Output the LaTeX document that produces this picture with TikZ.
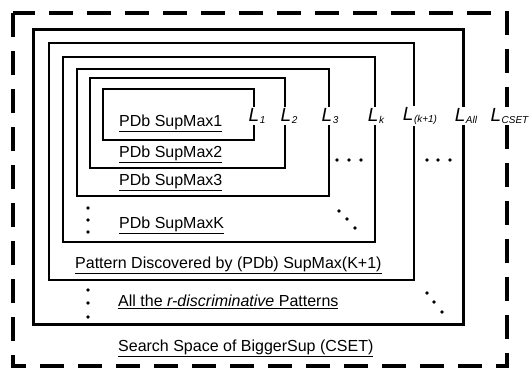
\documentclass[tikz,border=0pt]{standalone}
\usepackage{fontspec}
\setmainfont{Liberation Sans}
\newcommand{\lsub}[1]{L\kern0.5pt\raisebox{-1.5pt}{\fontsize{10}{12}\selectfont #1}}
\begin{document}
\begin{tikzpicture}[x=1pt,y=-1pt,
  setbox/.style={draw, line width=2.2pt},
  cset/.style={draw, line width=3.2pt, dash pattern=on 24pt off 14pt},
  txt/.style={anchor=west, inner sep=0pt, font=\fontsize{16}{19}\selectfont},
  lvl/.style={fill=white, inner sep=1.5pt, font=\fontsize{19}{22}\selectfont\itshape},
  dot/.style={fill, circle, inner sep=0pt, minimum size=3.6pt}]
\useasboundingbox (0,0) rectangle (529,372);
% nested pattern sets
\draw[cset] (13,13) rectangle (507,366);
\draw[setbox, line width=3pt] (33,29) rectangle (463,324);
\draw[setbox] (49,43) rectangle (414,280);
\draw[setbox] (63,57) rectangle (375,242);
\draw[setbox] (77,69) rectangle (329,196);
\draw[setbox] (90,78) rectangle (285,168);
\draw[setbox] (103,89) rectangle (254,140);
% level labels on the right edges
\node[lvl] (l1) at (257,116) {\lsub{1}};
\node[lvl] (l2) at (289,116) {\lsub{2}};
\node[lvl] (l3) at (330,116) {\lsub{3}};
\node[lvl] (lk) at (376,116) {\lsub{k}};
\node[lvl] (lk1) at (420,116) {\lsub{(k+1)}};
\node[lvl] (lall) at (466,116) {\lsub{All}};
\node[lvl, anchor=east, inner xsep=0.5pt] (lcset) at (529,116) {\lsub{CSET}};
% set names
\node[txt] (s1) at (119,123) {\underline{PDb SupMax1}};
\node[txt] (s2) at (119,154) {\underline{PDb SupMax2}};
\node[txt] (s3) at (119,182) {\underline{PDb SupMax3}};
\node[txt] (sk) at (119,225) {\underline{PDb SupMaxK}};
\node[txt] (sk1) at (75,265) {\underline{Pattern Discovered by (PDb) SupMax(K+1)}};
\node[txt] (rd) at (118,302) {\underline{All the \textit{r-discriminative} Patterns}};
\node[txt] (cs) at (118,348) {\underline{Search Space of BiggerSup (CSET)}};
% dots
\foreach \p in {(88,208),(88,220),(88,232),(88,290),(88,303),(88,317),
  (337,160),(349,160),(361,160),(427,160),(438,160),(450,160),
  (339,211),(347,219),(355,228),(427,293),(434,302),(442,312)}
  \node[dot] at \p {};
\end{tikzpicture}
\end{document}
